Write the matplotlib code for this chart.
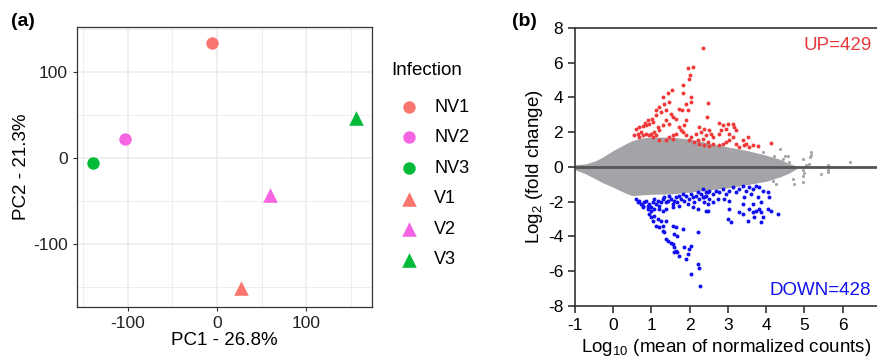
#import Libraries
import matplotlib.pyplot as plt

plt.rcParams['font.family'] = ['Liberation Sans', 'DejaVu Sans']
plt.rcParams['mathtext.default'] = 'regular'
plt.rcParams['axes.unicode_minus'] = False

# ---- panel (a) PCA data ----
samples = ['NV1', 'NV2', 'NV3', 'V1', 'V2', 'V3']
pc1 = [-5.6, -102.6, -139.3, 27.3, 59.9, 155.8]
pc2 = [133.7, 21.7, -6.2, -151.0, -43.0, 46.0]
sample_colors = ['#F8766D', '#F564E3', '#00BA38', '#F8766D', '#F564E3', '#00BA38']
sample_markers = ['o', 'o', 'o', '^', '^', '^']

# ---- panel (b) MA plot data ----
# envelope of the dense grey cloud (not significant genes)
cloud_x = [-1.0, -0.72, -0.45, -0.28, 0.0, 0.33, 0.5, 0.77, 1.0, 1.5, 2.0, 2.25, 2.5, 3.0, 3.5, 4.0, 4.35, 4.6, 4.8]
cloud_up = [0.13, 0.18, 0.37, 0.57, 0.95, 1.34, 1.52, 1.68, 1.72, 1.72, 1.6, 1.5, 1.38, 1.15, 0.95, 0.68, 0.45, 0.2, 0.05]
cloud_lo = [-0.16, -0.4, -0.7, -0.9, -1.17, -1.51, -1.65, -1.6, -1.57, -1.55, -1.45, -1.38, -1.32, -1.2, -1.02, -0.82, -0.58, -0.35, -0.1]

# scattered grey outliers at high counts
grey_x = [3.93, 4.21, 4.35, 4.48, 4.56, 4.43, 4.61, 4.96, 5.17, 5.16, 5.13, 5.04, 5.61, 6.20, 5.44, 5.61,
          4.96, 4.96, 5.00, 4.96, 4.74, 4.70, 4.35, 4.17, 4.26, 4.43, 5.17, 5.61]
grey_y = [0.86, 0.66, 1.05, 0.66, 0.61, 0.47, 0.28, 0.47, 0.86, 0.57, 0.18, 0.09, 0.09, 0.28, -0.39, -0.30,
          -0.20, -0.49, -0.36, -0.88, -0.97, -0.68, -0.39, -0.78, -0.97, -0.20, 0.67, -0.15]

# significantly up-regulated genes
up_x = [2.36, 1.96, 2.08, 2.01, 1.99, 1.82, 1.54, 1.42, 1.83, 2.03, 1.29, 1.47, 1.34, 1.20, 1.12, 1.90,
        2.03, 2.47, 1.73, 1.80, 1.95, 1.25, 1.38, 1.51, 1.12, 1.01, 0.90, 0.83, 0.77, 0.68, 0.59, 0.55,
        0.64, 0.72, 0.86, 0.94, 1.03, 2.45, 1.55, 1.64, 1.38, 1.47, 1.29, 1.16, 1.20, 1.07, 0.99, 1.90,
        1.86, 1.73, 1.77, 1.64, 1.55, 1.47, 2.25, 2.38, 2.51, 2.29, 2.16, 2.43, 2.56, 2.60, 2.34, 2.21,
        2.47, 2.60, 2.77, 2.86, 2.95, 2.82, 2.77, 2.99, 3.12, 3.17, 3.21, 3.04, 3.12, 3.04, 2.95, 2.86,
        2.77, 3.39, 3.47, 3.52, 3.43, 3.56, 3.65, 3.78, 4.13, 3.30, 3.21, 1.82, 1.90, 2.03, 1.99, 2.12,
        2.25, 2.38, 2.51, 1.55, 1.38, 1.20, 1.12, 1.03, 0.94, 0.86, 0.77, 0.68]
up_y = [6.83, 5.67, 5.77, 5.29, 5.04, 4.71, 4.42, 4.23, 4.23, 4.04, 4.04, 3.75, 3.65, 3.46, 3.30, 3.65,
        3.75, 3.71, 3.36, 3.27, 3.27, 3.17, 3.27, 3.07, 2.98, 2.78, 2.69, 2.53, 2.34, 2.30, 2.21, 1.82,
        1.92, 2.01, 2.40, 2.50, 2.59, 2.88, 2.88, 2.78, 2.69, 2.50, 2.40, 2.30, 2.11, 2.01, 1.92, 2.69,
        2.40, 2.30, 2.11, 1.92, 1.82, 1.72, 2.30, 2.21, 2.11, 2.01, 1.92, 1.82, 1.92, 1.72, 1.63, 1.53,
        1.44, 1.34, 2.53, 2.40, 2.21, 2.11, 1.92, 2.50, 2.46, 2.30, 2.11, 1.92, 1.72, 1.53, 1.44, 1.34,
        1.24, 1.53, 1.34, 1.72, 1.24, 1.15, 1.24, 1.20, 1.40, 1.15, 1.34, 2.01, 1.82, 1.72, 1.53, 1.44,
        1.34, 1.24, 1.18, 1.63, 1.53, 1.53, 1.82, 1.72, 1.82, 1.92, 1.82, 1.72]

# significantly down-regulated genes
down_x = [0.59, 0.64, 0.68, 0.72, 0.77, 0.81, 0.86, 0.90, 0.94, 0.99, 1.03, 1.07, 1.12, 1.16, 1.20, 1.25,
          1.29, 1.34, 1.38, 1.42, 1.47, 1.51, 1.55, 1.60, 1.64, 1.68, 1.73, 1.77, 1.82, 1.86, 1.90, 1.95,
          1.99, 2.03, 2.08, 2.12, 2.16, 2.21, 2.25, 2.29, 2.34, 2.38, 2.43, 2.47, 2.51, 0.77, 0.90, 0.99,
          1.07, 1.20, 1.29, 1.38, 1.55, 1.73, 2.08, 2.21, 2.47, 0.94, 0.99, 1.07, 1.03, 1.16, 1.25, 1.12,
          1.20, 1.29, 1.29, 1.34, 1.38, 1.55, 1.60, 1.68, 1.64, 1.82, 2.21, 1.38, 1.42, 1.51, 1.55, 1.60,
          1.64, 1.68, 1.73, 1.60, 1.86, 1.99, 2.03, 1.95, 1.90, 2.21, 2.25, 2.03, 2.28,
          2.34, 2.43, 2.51, 2.60, 2.69, 2.77, 2.86, 2.95, 3.04, 3.12, 3.21, 3.30, 3.39, 3.47, 3.56, 3.65,
          3.73, 3.82, 3.91, 4.04, 4.08, 3.78, 3.60, 3.43, 2.38, 2.47, 2.60, 2.73, 2.91, 3.04, 2.43, 3.39,
          3.65, 3.87, 4.04, 4.13, 4.30, 3.04, 3.30, 3.56, 3.65, 3.73, 3.82, 3.87, 3.91, 3.69, 3.39, 2.99,
          3.08, 3.52, 3.87]
down_y = [-1.84, -2.03, -1.94, -2.13, -2.23, -2.03, -1.94, -2.23, -2.13, -2.32, -2.03, -1.84, -2.13, -1.94,
          -2.23, -2.03, -1.84, -1.74, -2.03, -1.94, -1.65, -1.84, -2.13, -1.94, -1.74, -2.03, -1.65, -1.84,
          -1.55, -1.94, -1.65, -2.13, -1.84, -1.55, -1.74, -2.03, -1.65, -1.45, -1.84, -1.55, -1.74, -2.03,
          -1.65, -1.45, -1.84, -2.32, -2.42, -2.51, -2.42, -2.42, -2.51, -2.42, -2.32, -2.23, -2.32, -2.42,
          -2.51, -2.71, -2.90, -2.80, -3.09, -2.99, -3.09, -3.38, -3.48, -3.38, -3.67, -3.77, -3.09, -3.38,
          -3.86, -3.96, -3.48, -3.57, -3.77, -4.15, -4.25, -4.35, -4.44, -4.63, -4.83, -4.92, -5.12, -4.92,
          -4.63, -4.73, -4.54, -5.02, -5.31, -5.60, -5.79, -6.18, -6.85,
          -1.26, -1.45, -1.36, -1.55, -1.36, -1.45, -1.26, -1.55, -1.36, -1.17, -1.45, -1.26, -1.07, -1.36,
          -1.17, -1.26, -1.07, -1.17, -1.36, -1.45, -1.74, -1.74, -1.55, -1.74, -1.74, -2.13, -2.03, -1.84,
          -1.84, -1.94, -2.51, -2.13, -2.13, -2.03, -2.42, -2.51, -2.71, -2.42, -2.61, -2.42, -2.61, -2.51,
          -2.42, -2.61, -2.90, -2.90, -2.71, -2.99, -3.19, -3.09, -3.19]

fig = plt.figure(figsize=(8.77, 3.62), dpi=100)

# ================= panel (a) =================
ax1 = fig.add_axes([0.0878, 0.152, 0.3364, 0.7734])
for i in range(len(samples)):
    ax1.scatter(pc1[i], pc2[i], s=80 if sample_markers[i] == 'o' else 110, c=sample_colors[i],
                marker=sample_markers[i], label=samples[i], linewidths=0, zorder=3)
ax1.set_xlim(-157, 174)
ax1.set_ylim(-173, 152)
ax1.set_xticks([-100, 0, 100])
ax1.set_yticks([-100, 0, 100])
ax1.set_xticks([-150, -50, 50, 150], minor=True)
ax1.set_yticks([-150, -50, 50, 150], minor=True)
ax1.grid(True, which='major', color='#ebebeb', linewidth=1.1)
ax1.grid(True, which='minor', color='#ebebeb', linewidth=0.6)
ax1.set_axisbelow(True)
ax1.tick_params(which='major', length=3, width=0.8, color='#333333', labelsize=12.5, labelcolor='#222222')
ax1.tick_params(which='minor', length=0)
for sp in ax1.spines.values():
    sp.set_color('#333333')
    sp.set_linewidth(0.9)
ax1.set_xlabel('PC1 - 26.8%', fontsize=13.5, labelpad=1)
ax1.set_ylabel('PC2 - 21.3%', fontsize=13.5, labelpad=2)
leg = ax1.legend(title='Infection', loc='upper left', bbox_to_anchor=(1.04, 0.9), frameon=False,
                 fontsize=13, title_fontsize=13.5, handletextpad=0.4, labelspacing=0.75,
                 markerscale=1.0, borderaxespad=0)
leg._legend_box.align = 'left'
leg._legend_box.sep = 14
fig.text(0.012, 0.94, '(a)', fontsize=14, fontweight='bold', va='center')

# ================= panel (b) =================
ax2 = fig.add_axes([0.6557, 0.1547, 0.3443, 0.768])
ax2.fill_between(cloud_x, cloud_lo, cloud_up, color='#a4a4a8', linewidth=0, zorder=1)
ax2.scatter(grey_x, grey_y, s=5, c='#a4a4a8', linewidths=0, zorder=1)
ax2.scatter(up_x, up_y, s=8, c='#f03a3a', linewidths=0, zorder=3)
ax2.scatter(down_x, down_y, s=8, c='#1010f0', linewidths=0, zorder=3)
ax2.axhline(0, color='#555555', linewidth=2, zorder=2)
ax2.set_xlim(-1, 6.9)
ax2.set_ylim(-8, 8)
ax2.set_xticks(range(-1, 7))
ax2.set_yticks(range(-8, 9, 2))
ax2.tick_params(length=5, width=1.2, color='#333333', labelsize=12.5)
for sp in ax2.spines.values():
    sp.set_color('#333333')
    sp.set_linewidth(1.2)
ax2.spines['right'].set_visible(False)
ax2.set_xlabel('$Log_{10}$ (mean of normalized counts)', fontsize=13.5, labelpad=3)
ax2.set_ylabel('$Log_{2}$ (fold change)', fontsize=13.5, labelpad=2)
ax2.text(6.75, 7.0, 'UP=429', color='#e8383d', fontsize=13.5, ha='right', va='center')
ax2.text(6.75, -7.1, 'DOWN=428', color='#1010f0', fontsize=13.5, ha='right', va='center')
fig.text(0.584, 0.94, '(b)', fontsize=14, fontweight='bold', va='center')

plt.savefig('out.png', dpi=100)
